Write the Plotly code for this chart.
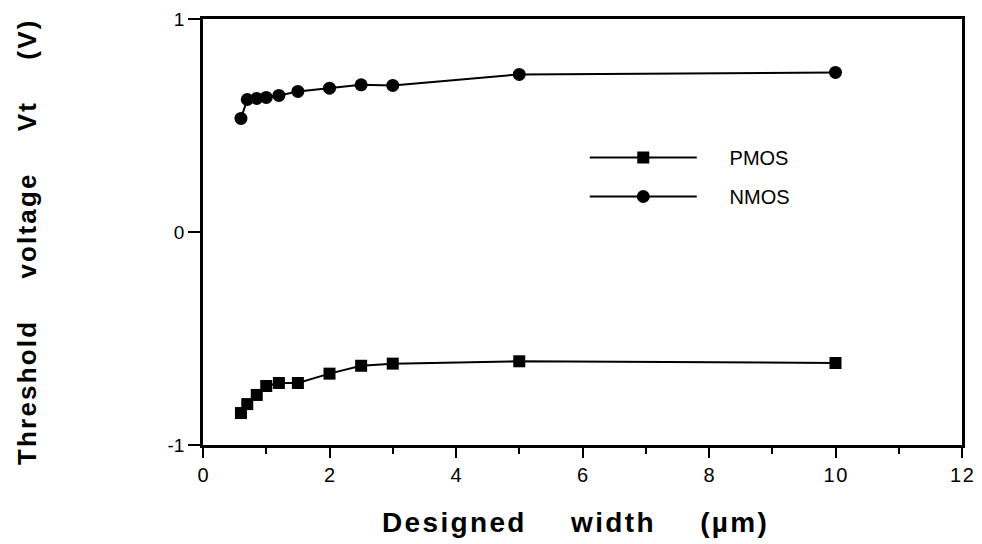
import plotly.graph_objects as go

width_um = [0.6, 0.7, 0.85, 1.0, 1.2, 1.5, 2.0, 2.5, 3.0, 5.0, 10.0]
pmos_vt = [-0.85, -0.808, -0.765, -0.723, -0.709, -0.709, -0.665, -0.628, -0.618, -0.607, -0.615]
nmos_vt = [0.533, 0.622, 0.627, 0.632, 0.641, 0.66, 0.675, 0.691, 0.688, 0.74, 0.749]

x_ticks = [0, 2, 4, 6, 8, 10, 12]
y_ticks = [-1, 0, 1]

NB = "\u00a0"
HS = "\u200a"


def spaced(word):
    return HS.join(list(word))


x_title = (NB * 6).join(spaced(w) for w in ["Designed", "width", "(\u00b5m)"])
y_title = (NB * 6).join(spaced(w) for w in ["Threshold", "voltage", "Vt", "(V)"])
tick_txt = lambda v: HS.join(list(str(v)))

fig = go.Figure()
fig.add_trace(go.Scatter(
    x=width_um, y=pmos_vt, name=NB * 5 + "PMOS", mode="lines+markers",
    line=dict(color="black", width=2),
    marker=dict(symbol="square", size=12, color="black"),
    legendgroup="p",
))
fig.add_trace(go.Scatter(
    x=width_um, y=nmos_vt, name=NB * 5 + "NMOS", mode="lines+markers",
    line=dict(color="black", width=2),
    marker=dict(symbol="circle", size=13, color="black"),
    legendgroup="n",
))

font_fam = "Liberation Sans, Arial, sans-serif"

fig.update_layout(
    width=982, height=544,
    margin=dict(l=195, r=28, t=11, b=107),
    paper_bgcolor="white", plot_bgcolor="white",
    font=dict(family=font_fam, color="black"),
    showlegend=True,
    legend=dict(
        x=0.503, y=0.7207, xanchor="left", yanchor="top",
        bgcolor="rgba(0,0,0,0)", itemwidth=107,
        font=dict(size=20, family=font_fam),
        tracegroupgap=10,
    ),
    xaxis=dict(
        range=[0, 12], tickvals=x_ticks, ticktext=[tick_txt(v) for v in x_ticks],
        ticks="outside", ticklen=10, tickwidth=2, tickcolor="black",
        minor=dict(dtick=1, ticks="outside", ticklen=6, tickwidth=2, tickcolor="black"),
        showline=True, linecolor="black", linewidth=2.5, mirror=True,
        showgrid=False, zeroline=False, automargin=False,
        ticklabeloverflow="allow",
        tickfont=dict(size=20, family=font_fam),
    ),
    yaxis=dict(
        range=[-1, 1], tickvals=y_ticks, ticktext=[str(v) for v in y_ticks],
        ticks="outside", ticklen=12, tickwidth=2, tickcolor="black",
        showline=True, linecolor="black", linewidth=2.5, mirror=True,
        showgrid=False, zeroline=False, automargin=False,
        ticklabeloverflow="allow",
        tickfont=dict(size=19, family=font_fam),
    ),
    annotations=[
        dict(
            text=y_title, textangle=-90, xref="paper", yref="paper",
            x=-0.232, y=0.474, xanchor="center", yanchor="middle", showarrow=False,
            font=dict(size=26, family=font_fam, weight="bold"),
        ),
        dict(
            text=x_title, xref="paper", yref="paper",
            x=0.49, y=-0.181, xanchor="center", yanchor="middle", showarrow=False,
            font=dict(size=28, family=font_fam, weight="bold"),
        ),
    ],
)

fig.write_html("out.html")
